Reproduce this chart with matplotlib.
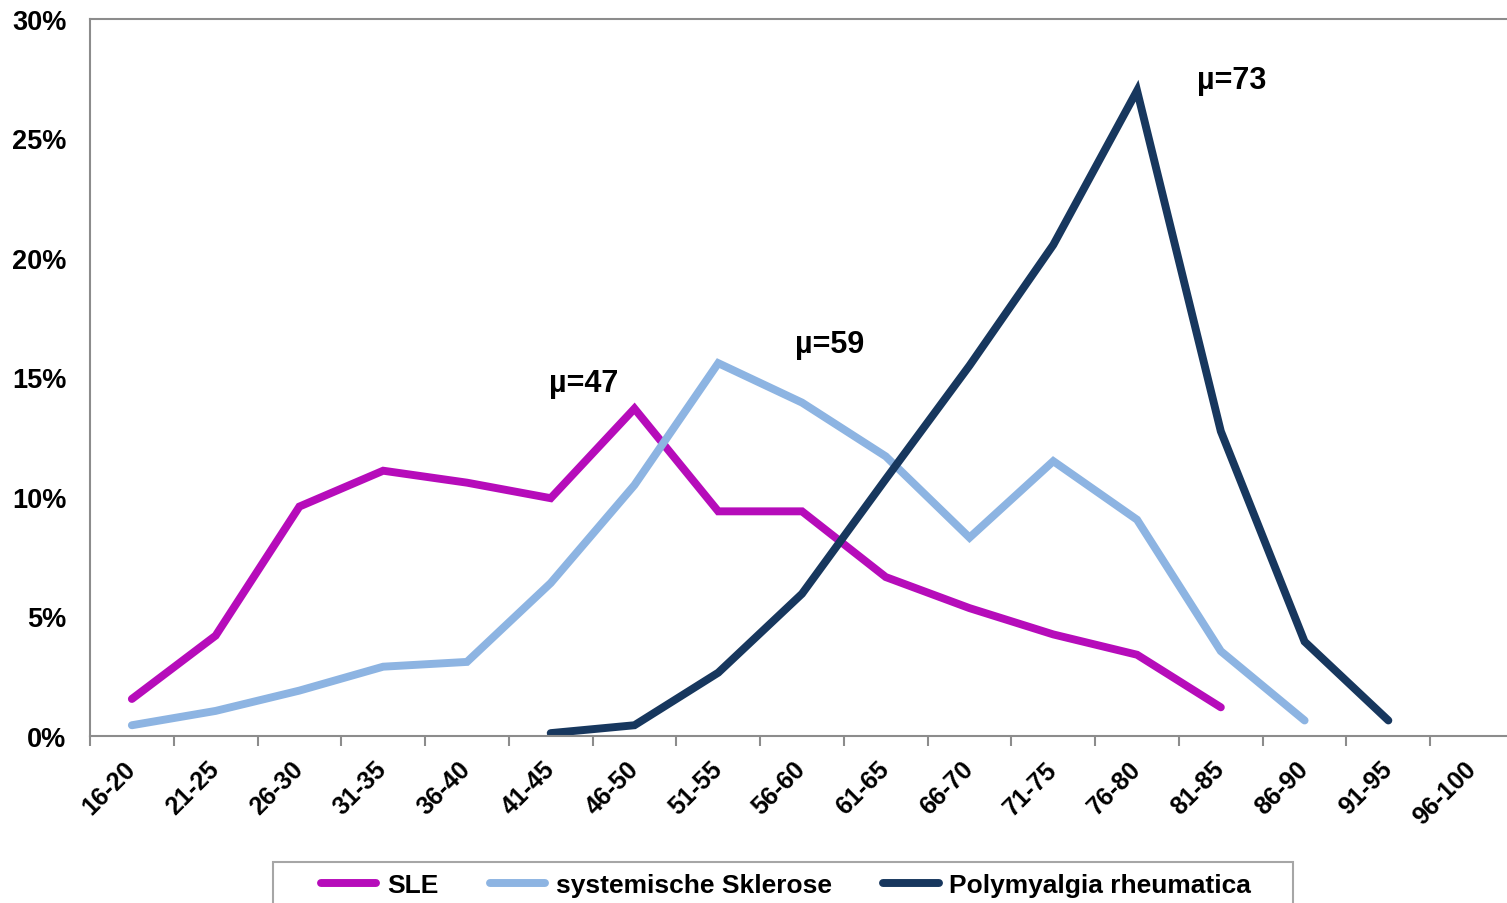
import numpy as np
import matplotlib.pyplot as plt
from matplotlib.patches import Rectangle
from matplotlib.ticker import FuncFormatter, FixedLocator

plt.rcParams['font.family'] = ['Liberation Sans', 'DejaVu Sans']
plt.rcParams['font.weight'] = 'bold'

# age groups
groups = ["16-20", "21-25", "26-30", "31-35", "36-40", "41-45", "46-50", "51-55",
          "56-60", "61-65", "66-70", "71-75", "76-80", "81-85", "86-90", "91-95", "96-100"]

# share of patients per age group (%)
sle = [1.55, 4.2, 9.6, 11.1, 10.6, 9.95, 13.7, 9.4, 9.4, 6.65, 5.35, 4.25, 3.4, 1.2]
ssc = [0.45, 1.05, 1.9, 2.9, 3.1, 6.4, 10.5, 15.6, 13.95, 11.7, 8.3, 11.5, 9.05, 3.55, 0.65]
pmr = [0.12, 0.45, 2.65, 5.95, 10.75, 15.5, 20.55, 27.0, 12.75, 3.95, 0.65]
pmr_start = 5  # first group with PMR cases (41-45)

labels = ["SLE", "systemische Sklerose", "Polymyalgia rheumatica"]
colors = ["#B60CBA", "#8DB4E2", "#17375E"]

# mean ages, placed next to each peak
means = ["µ=47", "µ=59", "µ=73"]
mean_pos = [(5.39, 14.75), (8.33, 16.4), (13.13, 27.45)]

fig = plt.figure(figsize=(15.07, 9.04), dpi=100)
ax = fig.add_axes([90/1507, 167/904, 1424/1507, 717/904])

x = np.arange(len(groups))
series = [(x[:len(sle)], sle), (x[:len(ssc)], ssc), (x[pmr_start:pmr_start+len(pmr)], pmr)]
for (xs, ys), lab, c in zip(series, labels, colors):
    ax.plot(xs, ys, color=c, lw=5.7, label=lab, solid_capstyle='round',
            solid_joinstyle='miter')

for txt, (tx, ty) in zip(means, mean_pos):
    ax.text(tx, ty, txt, ha='center', va='center', fontsize=22, fontweight='bold')

ax.set_xlim(-0.5, len(groups) - 0.5)
ax.set_ylim(0, 30)

ax.set_xticks(x)
ax.set_xticklabels(groups)
ax.xaxis.set_minor_locator(FixedLocator(np.arange(-0.5, len(groups), 1.0)))
ax.tick_params(axis='x', which='major', length=0, pad=21, labelsize=18)
ax.tick_params(axis='x', which='minor', length=7, width=1.5, color='#8C8C8C')
plt.setp(ax.get_xticklabels(), rotation=45, ha='right', va='center',
         rotation_mode='anchor', fontweight='bold')

ax.set_yticks(np.arange(0, 31, 5))
ax.yaxis.set_major_formatter(FuncFormatter(lambda v, p: f"{v:.0f}%"))
ax.tick_params(axis='y', length=0, pad=17, labelsize=19.5)
for t in ax.get_yticklabels():
    t.set_fontweight('bold')

for s in ax.spines.values():
    s.set_color('#8C8C8C')
    s.set_linewidth(1.5)

# legend box runs off the bottom edge
fig.patches.append(Rectangle((273/1507, -0.05), (1293-273)/1507, 0.05 + 1 - 863/904,
                             transform=fig.transFigure, fill=False,
                             edgecolor='#A6A6A6', lw=1.5))
fig.legend(loc='center', bbox_to_anchor=(786/1507, 1 - 886/904), ncol=3,
           frameon=False, handlelength=2.1, handletextpad=0.4,
           columnspacing=1.95, prop={'weight': 'bold', 'size': 19})

fig.savefig("out.png", dpi=100)
